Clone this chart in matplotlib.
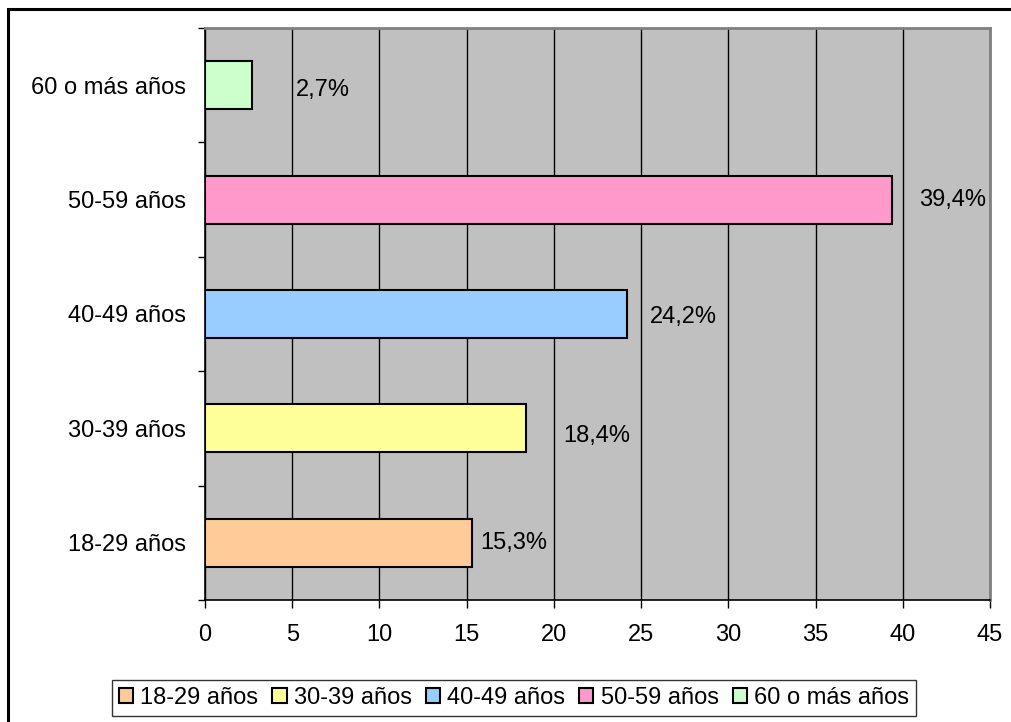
import matplotlib
matplotlib.use("Agg")
import matplotlib.pyplot as plt
from matplotlib.patches import Rectangle

plt.rcParams['font.family'] = ['Liberation Sans', 'DejaVu Sans']

categories = ["18-29 años", "30-39 años", "40-49 años", "50-59 años", "60 o más años"]
values = [15.3, 18.4, 24.2, 39.4, 2.7]
value_labels = ["15,3%", "18,4%", "24,2%", "39,4%", "2,7%"]
colors = ["#FFCC99", "#FFFF99", "#99CCFF", "#FF99CC", "#CCFFCC"]
xticks = [0, 5, 10, 15, 20, 25, 30, 35, 40, 45]

# label offsets (pixels) from bar end
label_dx = [8, 37, 23, 27, 44]
label_dy = [0, -8, -3, 0, -5]

FS = 17

fig = plt.figure(figsize=(10.12, 7.22), dpi=100)
fig.patch.set_facecolor("white")

# outer border (extends past right/bottom edges)
fig.patches.append(Rectangle((8/1012, -0.05), 1.2, 1 - 9/722 + 0.05,
                             transform=fig.transFigure, fill=False,
                             edgecolor="black", linewidth=2.2, zorder=0))

ax = fig.add_axes([205/1012, 1 - 600/722, 785/1012, 572/722])
ax.set_facecolor("#C0C0C0")

for i, (v, c, lab) in enumerate(zip(values, colors, categories)):
    ax.barh(i, v, height=0.42, color=c, edgecolor="black", linewidth=1.5,
            label=lab, zorder=3)

for i, (v, t) in enumerate(zip(values, value_labels)):
    ax.annotate(t, xy=(v, i), xytext=(label_dx[i], label_dy[i]),
                textcoords="offset pixels", ha="left", va="center",
                fontsize=FS, color="black", zorder=4)

ax.set_xlim(0, 45)
ax.set_ylim(-0.5, 4.5)
ax.set_xticks(xticks)
ax.set_xticklabels([str(x) for x in xticks], fontsize=FS)
ax.set_yticks(range(len(categories)))
ax.set_yticklabels(categories, fontsize=FS)
ax.set_yticks([-0.5, 0.5, 1.5, 2.5, 3.5, 4.5], minor=True)
ax.tick_params(axis="y", which="major", length=0, pad=14)
ax.tick_params(axis="y", which="minor", length=5, width=1, color="black")
ax.tick_params(axis="x", which="major", length=6, width=1, pad=11, color="black")

ax.grid(axis="x", color="black", linewidth=1, zorder=1)
ax.set_axisbelow(True)

ax.spines["left"].set_color("black")
ax.spines["left"].set_linewidth(1.2)
ax.spines["bottom"].set_color("black")
ax.spines["bottom"].set_linewidth(1.2)
ax.spines["top"].set_color("#808080")
ax.spines["top"].set_linewidth(2)
ax.spines["right"].set_color("#808080")
ax.spines["right"].set_linewidth(2)

leg = fig.legend(loc="center", bbox_to_anchor=(514/1012, 1 - 698/722),
                 ncol=5, fontsize=FS, frameon=True, fancybox=False,
                 edgecolor="black", handlelength=0.6, handleheight=0.6,
                 handletextpad=0.3, columnspacing=0.6, borderpad=0.3,
                 borderaxespad=0)
leg.get_frame().set_linewidth(1)

fig.savefig("out.png", dpi=100)
